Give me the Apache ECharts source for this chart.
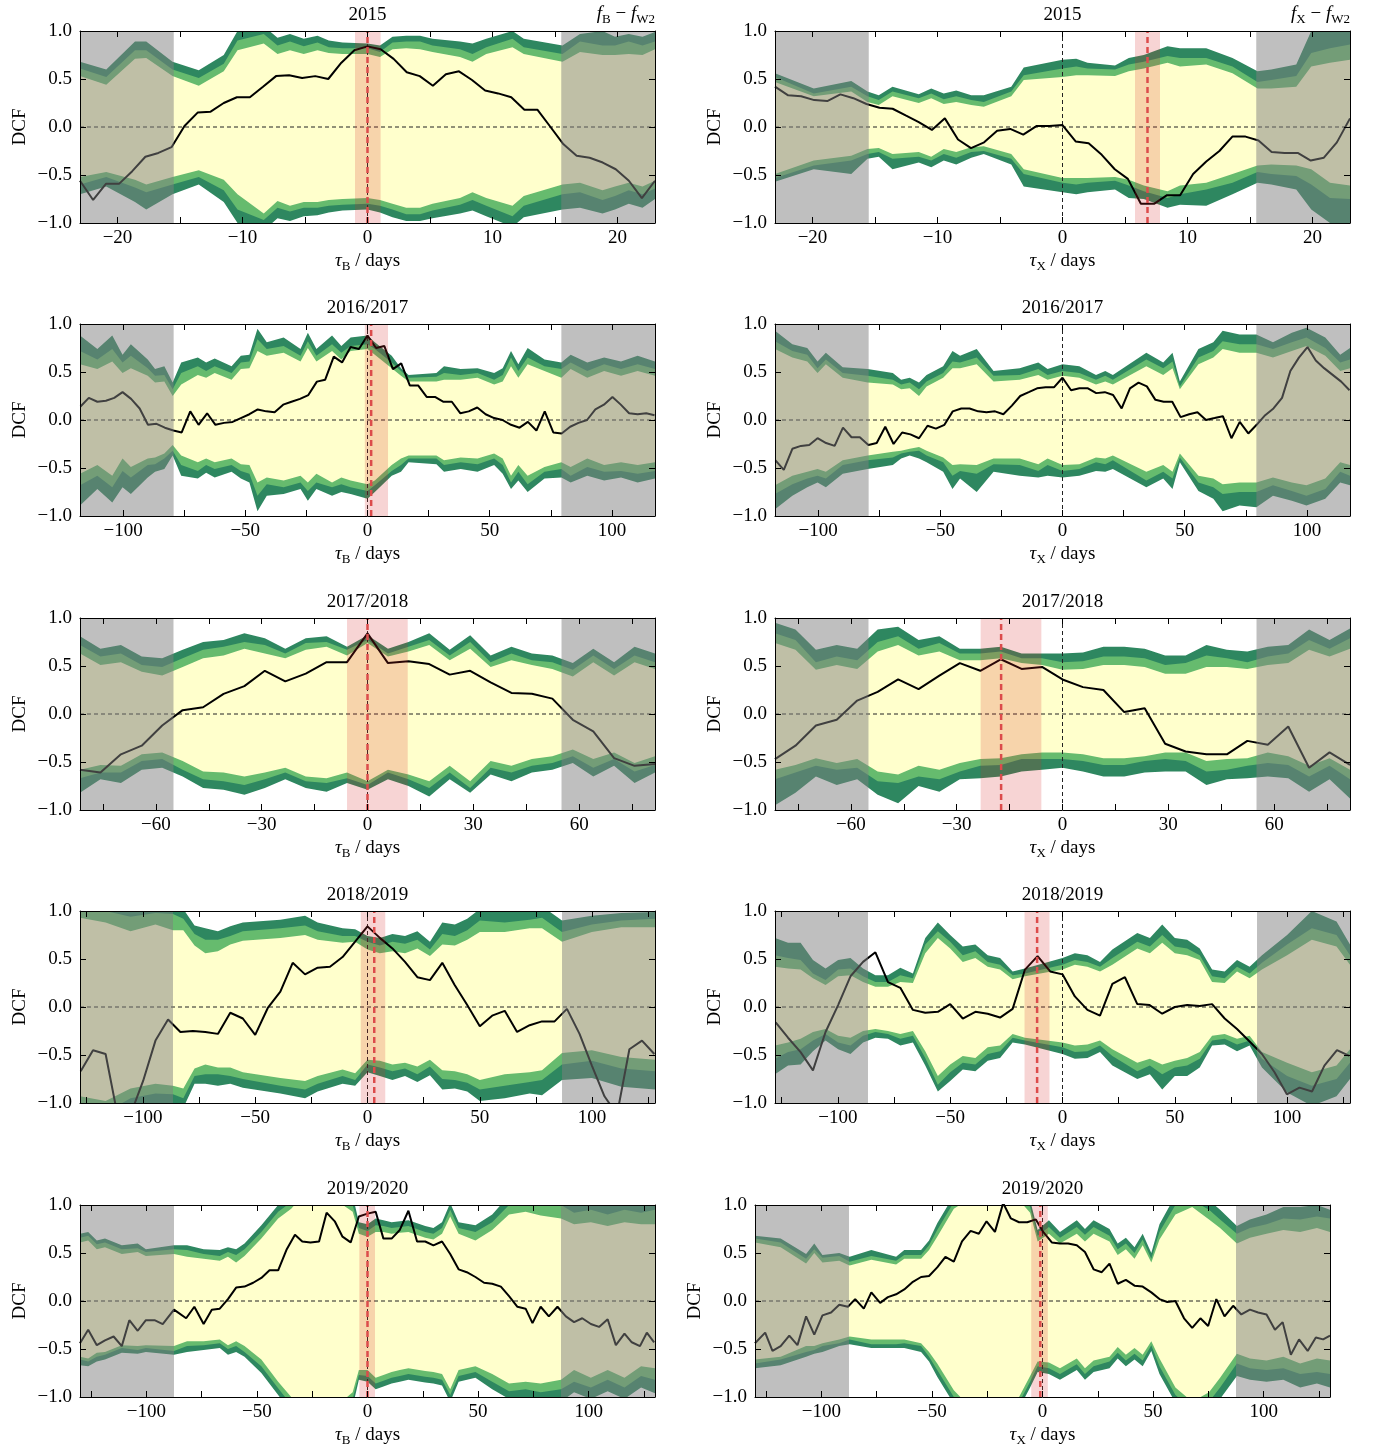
<!DOCTYPE html>
<html>
<head>
<meta charset="utf-8">
<script src="https://cdn.jsdelivr.net/npm/echarts@6/dist/echarts.min.js"></script>
<style>
html,body{margin:0;padding:0;background:#fff}
#main{width:1374px;height:1448px}
</style>
</head>
<body>
<div id="main"></div>
<script>
// ===== 2015 =====
const range2015 = [-23, 23];
const edge2015 = 15.5;
const ticks2015 = [-20, -15, -10, -5, 0, 5, 10, 15, 20];
const labels2015 = [-20, -10, 0, 10, 20];
const lagB15 = [-23.0,-21.95,-20.91,-19.86,-18.82,-17.77,-16.73,-15.68,-14.64,-13.59,-12.55,-11.5,-10.45,-9.41,-8.36,-7.32,-6.27,-5.23,-4.18,-3.14,-2.09,-1.05,0,1.05,2.09,3.14,4.18,5.23,6.27,7.32,8.36,9.41,10.45,11.5,12.55,13.59,14.64,15.68,16.73,17.77,18.82,19.86,20.91,21.95,23.0];
const dcfB15 = [-0.56,-0.76,-0.59,-0.59,-0.46,-0.31,-0.27,-0.21,0.01,0.15,0.16,0.25,0.31,0.31,0.42,0.53,0.54,0.51,0.53,0.50,0.67,0.80,0.84,0.81,0.71,0.57,0.53,0.43,0.55,0.58,0.49,0.38,0.35,0.31,0.18,0.18,0.0,-0.18,-0.30,-0.32,-0.37,-0.44,-0.56,-0.74,-0.56];
const bandLagB15 = [-23.0,-20.9,-18.6,-17.7,-15.6,-13.5,-11.5,-10.4,-8.3,-7.2,-6.2,-5.1,-4.0,-3.1,-2.0,0,1.0,2.0,3.1,4.2,5.2,7.4,8.4,9.5,11.6,12.5,15.6,17.0,18.8,19.8,20.9,22.0,23.0];
const up3B15 = [0.68,0.60,0.89,0.89,0.68,0.59,0.75,1.00,1.05,0.93,0.97,0.92,0.95,0.90,0.88,0.87,0.85,0.94,0.95,0.95,0.92,0.89,0.87,0.92,1.00,0.92,0.85,0.97,1.00,0.94,0.97,0.94,0.99];
const up2B15 = [0.61,0.52,0.80,0.80,0.60,0.51,0.66,0.90,0.97,0.85,0.89,0.84,0.88,0.83,0.82,0.82,0.78,0.88,0.89,0.89,0.85,0.81,0.76,0.83,0.92,0.83,0.76,0.89,0.85,0.85,0.89,0.85,0.89];
const up1B15 = [0.53,0.44,0.71,0.72,0.53,0.43,0.58,0.80,0.87,0.76,0.80,0.76,0.80,0.77,0.76,0.76,0.73,0.81,0.82,0.81,0.78,0.73,0.68,0.76,0.83,0.76,0.68,0.78,0.75,0.75,0.76,0.75,0.81];
const lo1B15 = [-0.52,-0.47,-0.55,-0.60,-0.52,-0.45,-0.55,-0.70,-0.90,-0.77,-0.82,-0.78,-0.78,-0.76,-0.75,-0.74,-0.76,-0.80,-0.84,-0.84,-0.80,-0.74,-0.68,-0.74,-0.82,-0.72,-0.60,-0.58,-0.66,-0.62,-0.58,-0.62,-0.56];
const lo2B15 = [-0.60,-0.52,-0.63,-0.68,-0.60,-0.52,-0.66,-0.86,-0.97,-0.84,-0.88,-0.84,-0.84,-0.82,-0.81,-0.80,-0.82,-0.86,-0.91,-0.91,-0.87,-0.81,-0.76,-0.82,-0.93,-0.82,-0.70,-0.68,-0.76,-0.72,-0.66,-0.70,-0.64];
const lo3B15 = [-0.70,-0.62,-0.78,-0.86,-0.70,-0.60,-0.78,-1.00,-1.08,-0.95,-0.98,-0.93,-0.92,-0.89,-0.87,-0.86,-0.89,-0.94,-0.98,-0.98,-0.95,-0.90,-0.87,-0.93,-1.04,-0.94,-0.86,-0.84,-0.90,-0.86,-0.80,-0.84,-0.75];
const peakB15 = [-1.0, 0, 1.05];

const lagX15 = lagB15;
const dcfX15 = [0.42,0.33,0.32,0.28,0.27,0.34,0.30,0.24,0.20,0.19,0.12,0.05,-0.03,0.09,-0.13,-0.22,-0.16,-0.04,-0.02,-0.08,0.01,0.01,0.02,-0.15,-0.17,-0.29,-0.44,-0.54,-0.80,-0.80,-0.71,-0.71,-0.49,-0.36,-0.25,-0.10,-0.10,-0.14,-0.26,-0.27,-0.27,-0.35,-0.32,-0.16,0.09];
const bandLagX15 = [-23.0,-19.9,-16.9,-15.6,-14.7,-13.6,-11.5,-10.5,-9.5,-8.5,-7.3,-6.3,-4.1,-3.1,0,1.1,2.0,4.2,5.3,6.5,8.4,9.4,11.5,13.6,15.6,16.7,18.7,19.9,21.4,23.0];
const up3X15 = [0.56,0.40,0.48,0.37,0.33,0.42,0.34,0.40,0.35,0.38,0.33,0.33,0.42,0.62,0.70,0.71,0.67,0.64,0.72,0.75,0.84,0.82,0.82,0.72,0.58,0.60,0.65,1.00,1.07,1.05];
const up2X15 = [0.52,0.35,0.42,0.32,0.28,0.37,0.30,0.35,0.29,0.32,0.28,0.26,0.37,0.54,0.61,0.63,0.61,0.60,0.65,0.68,0.74,0.72,0.72,0.63,0.47,0.49,0.53,0.77,0.82,0.86];
const up1X15 = [0.47,0.32,0.37,0.26,0.23,0.32,0.25,0.30,0.24,0.26,0.23,0.21,0.32,0.49,0.52,0.54,0.54,0.53,0.58,0.61,0.67,0.63,0.65,0.56,0.40,0.40,0.42,0.63,0.67,0.70];
const lo1X15 = [-0.49,-0.35,-0.30,-0.23,-0.22,-0.28,-0.26,-0.31,-0.23,-0.26,-0.21,-0.20,-0.28,-0.44,-0.53,-0.53,-0.53,-0.52,-0.55,-0.61,-0.67,-0.61,-0.58,-0.49,-0.40,-0.39,-0.40,-0.44,-0.58,-0.61];
const lo2X15 = [-0.53,-0.40,-0.35,-0.28,-0.26,-0.33,-0.31,-0.35,-0.28,-0.32,-0.26,-0.25,-0.33,-0.49,-0.58,-0.60,-0.58,-0.56,-0.61,-0.67,-0.74,-0.70,-0.65,-0.58,-0.47,-0.49,-0.51,-0.60,-0.74,-0.75];
const lo3X15 = [-0.57,-0.44,-0.49,-0.33,-0.31,-0.44,-0.37,-0.42,-0.35,-0.39,-0.32,-0.28,-0.39,-0.62,-0.68,-0.70,-0.68,-0.65,-0.74,-0.75,-0.84,-0.81,-0.82,-0.70,-0.58,-0.60,-0.65,-0.86,-1.00,-1.10];
const peakX15 = [5.8, 6.8, 7.8];

// ===== 2016/2017 =====
const range2016 = [-117.6, 117.6];
const edge2016 = 79.3;
const ticks2016 = [-100, -75, -50, -25, 0, 25, 50, 75, 100];
const labels2016 = [-100, -50, 0, 50, 100];
const lagB16 = [-117.4,-114.0,-110.5,-107.0,-103.6,-100.2,-96.7,-93.2,-89.8,-86.3,-82.9,-79.4,-76.0,-72.5,-69.1,-65.6,-62.2,-58.7,-55.2,-51.8,-48.3,-44.9,-41.4,-38.0,-34.5,-31.1,-27.6,-24.2,-20.7,-17.3,-13.8,-10.4,-6.9,-3.5,0,3.5,6.9,10.4,13.8,17.3,20.7,24.2,27.6,31.1,34.5,38.0,41.4,44.9,48.3,51.8,55.2,58.7,62.2,65.6,69.1,72.5,76.0,79.4,82.9,86.3,89.8,93.2,96.7,100.2,103.6,107.0,110.5,114.0,117.4];
const dcfB16 = [0.14,0.23,0.19,0.20,0.23,0.29,0.22,0.12,-0.05,-0.04,-0.08,-0.11,-0.13,0.09,-0.05,0.07,-0.05,-0.03,-0.02,0.02,0.06,0.11,0.09,0.08,0.16,0.19,0.22,0.26,0.40,0.42,0.66,0.60,0.76,0.74,0.88,0.75,0.77,0.53,0.59,0.36,0.36,0.24,0.24,0.19,0.19,0.07,0.09,0.13,0.06,0.02,0.00,-0.05,-0.08,-0.02,-0.11,0.09,-0.13,-0.14,-0.07,-0.03,0.00,0.11,0.16,0.24,0.16,0.07,0.06,0.07,0.05];
const bandLagB16 = [-117.6,-110.5,-104.4,-100.2,-96.8,-89.9,-86.9,-83.1,-79.7,-76.2,-69.4,-66.0,-62.5,-55.6,-51.8,-48.3,-45.0,-41.2,-34.3,-27.4,-24.4,-20.9,-14.5,-10.7,-6.9,0,3.0,9.9,13.7,16.8,28.2,31.3,38.1,45.0,51.8,55.3,58.7,61.7,65.5,72.4,79.3,83.1,89.9,96.8,103.7,110.5,117.6];
const up3B16 = [0.88,0.74,0.88,0.68,0.79,0.63,0.53,0.56,0.39,0.60,0.65,0.60,0.64,0.56,0.67,0.68,0.95,0.81,0.86,0.74,0.91,0.74,0.88,0.77,0.86,0.88,0.81,0.67,0.54,0.47,0.49,0.56,0.53,0.54,0.49,0.54,0.72,0.58,0.75,0.63,0.60,0.68,0.60,0.65,0.61,0.67,0.61];
const up2B16 = [0.72,0.63,0.74,0.60,0.67,0.54,0.46,0.47,0.32,0.49,0.56,0.51,0.56,0.49,0.60,0.61,0.84,0.74,0.77,0.67,0.82,0.67,0.79,0.70,0.77,0.79,0.74,0.60,0.51,0.44,0.45,0.49,0.47,0.49,0.42,0.47,0.65,0.51,0.65,0.56,0.53,0.60,0.51,0.58,0.53,0.58,0.53];
const up1B16 = [0.58,0.53,0.61,0.49,0.54,0.46,0.39,0.40,0.25,0.37,0.47,0.44,0.49,0.42,0.53,0.54,0.72,0.67,0.70,0.61,0.75,0.61,0.72,0.63,0.72,0.74,0.68,0.54,0.46,0.40,0.40,0.42,0.42,0.44,0.37,0.40,0.56,0.44,0.58,0.51,0.44,0.53,0.44,0.51,0.46,0.51,0.46];
const lo1B16 = [-0.56,-0.47,-0.58,-0.40,-0.49,-0.40,-0.39,-0.35,-0.26,-0.37,-0.44,-0.40,-0.44,-0.40,-0.46,-0.47,-0.65,-0.60,-0.63,-0.58,-0.65,-0.56,-0.65,-0.60,-0.63,-0.67,-0.63,-0.47,-0.40,-0.37,-0.37,-0.42,-0.39,-0.40,-0.35,-0.40,-0.58,-0.47,-0.58,-0.49,-0.44,-0.49,-0.40,-0.47,-0.44,-0.47,-0.44];
const lo2B16 = [-0.68,-0.58,-0.70,-0.53,-0.60,-0.47,-0.46,-0.40,-0.32,-0.47,-0.53,-0.47,-0.51,-0.47,-0.53,-0.56,-0.79,-0.67,-0.70,-0.65,-0.74,-0.65,-0.70,-0.67,-0.70,-0.74,-0.68,-0.53,-0.47,-0.40,-0.40,-0.47,-0.44,-0.46,-0.40,-0.47,-0.65,-0.54,-0.67,-0.54,-0.51,-0.58,-0.49,-0.54,-0.53,-0.56,-0.53];
const lo3B16 = [-0.89,-0.72,-0.86,-0.70,-0.77,-0.60,-0.54,-0.51,-0.37,-0.58,-0.61,-0.55,-0.60,-0.54,-0.61,-0.65,-0.95,-0.79,-0.77,-0.72,-0.84,-0.72,-0.79,-0.75,-0.77,-0.82,-0.75,-0.58,-0.54,-0.44,-0.46,-0.54,-0.51,-0.54,-0.47,-0.56,-0.72,-0.63,-0.75,-0.61,-0.60,-0.65,-0.58,-0.63,-0.60,-0.65,-0.61];
const peakB16 = [-1.1, 1.5, 8.4];

const lagX16 = lagB16;
const dcfX16 = [-0.42,-0.52,-0.30,-0.27,-0.26,-0.19,-0.24,-0.27,-0.08,-0.18,-0.18,-0.26,-0.24,-0.07,-0.25,-0.13,-0.15,-0.19,-0.06,-0.09,-0.05,0.09,0.12,0.12,0.09,0.08,0.09,0.06,0.15,0.25,0.29,0.33,0.34,0.34,0.44,0.31,0.33,0.33,0.28,0.29,0.26,0.12,0.33,0.39,0.35,0.21,0.19,0.19,0.03,0.06,0.08,0.00,0.02,0.04,-0.19,-0.02,-0.14,-0.05,0.05,0.12,0.23,0.51,0.65,0.76,0.62,0.54,0.47,0.40,0.31];
const bandLagX16 = [-117.6,-110.5,-104.4,-100.2,-96.8,-89.9,-79.7,-69.4,-66.0,-62.5,-58.7,-55.6,-48.8,-45.0,-41.9,-35.1,-28.2,-17.5,-9.9,-6.1,0,6.9,13.7,17.5,20.6,34.3,41.2,45.0,48.0,55.6,61.7,65.5,72.4,79.3,86.1,93.8,99.8,107.5,113.6,117.6];
const up3X16 = [0.93,0.79,0.75,0.61,0.70,0.55,0.53,0.49,0.42,0.44,0.39,0.47,0.56,0.72,0.67,0.74,0.51,0.54,0.60,0.53,0.58,0.56,0.47,0.51,0.47,0.70,0.60,0.70,0.40,0.74,0.81,0.93,0.89,0.89,0.81,0.91,0.96,0.86,0.68,0.75];
const up2X16 = [0.82,0.72,0.68,0.54,0.63,0.49,0.46,0.42,0.37,0.39,0.32,0.40,0.49,0.61,0.60,0.65,0.46,0.47,0.53,0.47,0.51,0.49,0.42,0.46,0.42,0.63,0.54,0.61,0.35,0.65,0.72,0.82,0.79,0.79,0.74,0.81,0.86,0.75,0.60,0.63];
const up1X16 = [0.74,0.65,0.61,0.49,0.58,0.44,0.39,0.37,0.32,0.33,0.25,0.35,0.44,0.54,0.54,0.58,0.40,0.42,0.47,0.42,0.46,0.44,0.37,0.40,0.37,0.56,0.47,0.54,0.32,0.58,0.65,0.74,0.70,0.70,0.65,0.72,0.77,0.67,0.51,0.54];
const lo1X16 = [-0.68,-0.58,-0.54,-0.51,-0.54,-0.42,-0.37,-0.33,-0.32,-0.30,-0.28,-0.32,-0.39,-0.47,-0.46,-0.47,-0.40,-0.40,-0.46,-0.40,-0.47,-0.46,-0.39,-0.40,-0.37,-0.54,-0.47,-0.54,-0.35,-0.58,-0.61,-0.67,-0.65,-0.65,-0.60,-0.65,-0.68,-0.61,-0.44,-0.47];
const lo2X16 = [-0.77,-0.67,-0.61,-0.58,-0.61,-0.47,-0.42,-0.39,-0.35,-0.33,-0.32,-0.37,-0.44,-0.58,-0.53,-0.56,-0.46,-0.47,-0.53,-0.47,-0.53,-0.51,-0.44,-0.46,-0.42,-0.63,-0.54,-0.61,-0.39,-0.65,-0.70,-0.77,-0.75,-0.75,-0.68,-0.74,-0.79,-0.72,-0.54,-0.58];
const lo3X16 = [-0.93,-0.79,-0.70,-0.65,-0.70,-0.56,-0.51,-0.47,-0.40,-0.37,-0.40,-0.44,-0.54,-0.72,-0.61,-0.75,-0.54,-0.58,-0.60,-0.58,-0.60,-0.58,-0.53,-0.54,-0.51,-0.70,-0.61,-0.72,-0.44,-0.74,-0.82,-0.95,-0.89,-0.91,-0.79,-0.84,-0.89,-0.82,-0.65,-0.68];
const peakX16 = null;

// ===== 2017/2018 =====
const range2017 = [-81.5, 81.5];
const edge2017 = 55.0;
const ticks2017 = [-75, -60, -45, -30, -15, 0, 15, 30, 45, 60, 75];
const labels2017 = [-60, -30, 0, 30, 60];
const lagB17 = [-81.5,-75.7,-69.9,-64.0,-58.2,-52.4,-46.6,-40.8,-34.9,-29.1,-23.3,-17.5,-11.6,-5.8,0,5.8,11.6,17.5,23.3,29.1,34.9,40.8,46.6,52.4,58.2,64.0,69.9,75.7,81.5];
const dcfB17 = [-0.58,-0.61,-0.42,-0.33,-0.12,0.04,0.07,0.21,0.29,0.45,0.34,0.42,0.54,0.54,0.84,0.53,0.55,0.52,0.41,0.45,0.33,0.22,0.21,0.16,-0.06,-0.18,-0.46,-0.54,-0.52];
const up3B17 = [0.81,0.68,0.72,0.60,0.58,0.67,0.75,0.77,0.84,0.79,0.68,0.79,0.81,0.70,0.82,0.68,0.75,0.84,0.67,0.82,0.61,0.70,0.63,0.61,0.53,0.68,0.54,0.70,0.63];
const up2B17 = [0.72,0.60,0.63,0.51,0.49,0.58,0.67,0.70,0.75,0.72,0.63,0.74,0.75,0.67,0.77,0.63,0.70,0.77,0.61,0.75,0.54,0.63,0.56,0.54,0.46,0.61,0.47,0.61,0.54];
const up1B17 = [0.63,0.51,0.54,0.44,0.40,0.49,0.58,0.61,0.68,0.63,0.58,0.67,0.70,0.61,0.74,0.60,0.65,0.72,0.56,0.68,0.49,0.56,0.51,0.47,0.39,0.54,0.40,0.54,0.47];
const lo1B17 = [-0.58,-0.53,-0.54,-0.42,-0.40,-0.49,-0.60,-0.61,-0.65,-0.61,-0.56,-0.65,-0.67,-0.61,-0.70,-0.58,-0.63,-0.70,-0.54,-0.70,-0.49,-0.54,-0.47,-0.44,-0.37,-0.47,-0.40,-0.51,-0.44];
const lo2B17 = [-0.67,-0.61,-0.61,-0.49,-0.47,-0.58,-0.68,-0.70,-0.74,-0.68,-0.61,-0.70,-0.72,-0.67,-0.74,-0.61,-0.68,-0.77,-0.61,-0.77,-0.56,-0.61,-0.54,-0.51,-0.44,-0.56,-0.47,-0.60,-0.53];
const lo3B17 = [-0.82,-0.68,-0.72,-0.58,-0.56,-0.65,-0.77,-0.79,-0.84,-0.77,-0.68,-0.77,-0.81,-0.72,-0.79,-0.68,-0.75,-0.86,-0.68,-0.82,-0.63,-0.70,-0.61,-0.58,-0.51,-0.65,-0.54,-0.72,-0.61];
const peakB17 = [-5.8, 0, 11.4];

const lagX17 = lagB17;
const dcfX17 = [-0.47,-0.33,-0.12,-0.06,0.14,0.23,0.36,0.26,0.40,0.53,0.45,0.57,0.47,0.49,0.36,0.28,0.25,0.02,0.06,-0.31,-0.39,-0.42,-0.42,-0.28,-0.32,-0.13,-0.56,-0.40,-0.53];
const up3X17 = [0.95,0.88,0.67,0.72,0.68,0.88,0.91,0.77,0.81,0.68,0.68,0.70,0.63,0.63,0.63,0.64,0.70,0.70,0.68,0.61,0.61,0.72,0.67,0.65,0.70,0.72,0.88,0.77,0.89];
const up2X17 = [0.84,0.77,0.54,0.60,0.56,0.75,0.81,0.68,0.74,0.63,0.63,0.65,0.58,0.58,0.54,0.55,0.60,0.60,0.58,0.51,0.53,0.61,0.58,0.54,0.60,0.63,0.77,0.68,0.79];
const up1X17 = [0.74,0.67,0.46,0.51,0.47,0.65,0.72,0.61,0.65,0.56,0.56,0.58,0.53,0.51,0.46,0.47,0.51,0.51,0.49,0.42,0.42,0.49,0.49,0.47,0.51,0.53,0.67,0.60,0.68];
const lo1X17 = [-0.58,-0.53,-0.46,-0.51,-0.47,-0.60,-0.63,-0.54,-0.58,-0.51,-0.47,-0.46,-0.42,-0.40,-0.40,-0.42,-0.46,-0.46,-0.44,-0.40,-0.40,-0.49,-0.47,-0.46,-0.40,-0.44,-0.54,-0.46,-0.58];
const lo2X17 = [-0.68,-0.61,-0.54,-0.58,-0.56,-0.70,-0.72,-0.65,-0.68,-0.60,-0.54,-0.53,-0.47,-0.47,-0.47,-0.49,-0.53,-0.53,-0.49,-0.47,-0.49,-0.60,-0.58,-0.54,-0.51,-0.53,-0.65,-0.54,-0.68];
const lo3X17 = [-0.95,-0.82,-0.65,-0.74,-0.68,-0.84,-0.93,-0.75,-0.81,-0.68,-0.67,-0.65,-0.60,-0.58,-0.56,-0.60,-0.65,-0.65,-0.61,-0.60,-0.60,-0.74,-0.68,-0.67,-0.65,-0.67,-0.81,-0.68,-0.88];
const peakX17 = [-23.2, -17.4, -6.0];

// ===== 2018/2019 =====
const range2018 = [-128, 128];
const edge2018 = 86.6;
const ticks2018 = [-125, -100, -75, -50, -25, 0, 25, 50, 75, 100, 125];
const labels2018 = [-100, -50, 0, 50, 100];
const lagB18 = [-127.7,-122.2,-116.6,-111.1,-105.5,-99.9,-94.4,-88.8,-83.3,-77.7,-72.2,-66.6,-61.1,-55.5,-50.0,-44.4,-38.8,-33.3,-27.8,-22.2,-16.7,-11.1,-5.5,0,5.5,11.1,16.7,22.2,27.8,33.3,38.8,44.4,50.0,55.5,61.1,66.6,72.2,77.7,83.3,88.8,94.4,99.9,105.5,111.1,116.6,122.2,127.7];
const dcfB18 = [-0.67,-0.45,-0.49,-1.15,-1.12,-0.77,-0.35,-0.13,-0.26,-0.25,-0.26,-0.28,-0.06,-0.12,-0.29,-0.01,0.16,0.46,0.34,0.41,0.42,0.52,0.68,0.84,0.72,0.61,0.47,0.31,0.28,0.46,0.23,0.02,-0.20,-0.09,-0.04,-0.26,-0.19,-0.15,-0.15,-0.02,-0.28,-0.61,-0.93,-1.12,-0.44,-0.35,-0.49];
const bandLagB18 = [-128,-116.6,-105.5,-94.4,-86.6,-82.0,-77.0,-72.2,-66.6,-61.1,-55.5,-38.8,-27.8,-22.2,-11.1,-5.5,0,5.5,11.1,16.7,22.2,27.8,33.3,38.9,44.4,50.0,61.1,72.2,77.7,86.6,99.9,113.0,128];
const up3B18 = [1.20,1.15,1.10,1.10,1.05,1.02,0.85,0.82,0.79,0.84,0.88,0.91,0.95,0.88,0.82,0.81,0.74,0.72,0.76,0.74,0.79,0.68,0.88,0.86,0.92,1.02,1.02,1.02,1.05,0.90,0.95,0.98,0.99];
const up2B18 = [1.05,1.00,0.94,0.98,0.97,0.92,0.76,0.70,0.70,0.74,0.79,0.82,0.85,0.79,0.74,0.74,0.68,0.64,0.68,0.66,0.70,0.60,0.76,0.74,0.80,0.90,0.88,0.91,0.93,0.78,0.86,0.90,0.92];
const up1B18 = [0.93,0.88,0.79,0.86,0.80,0.80,0.64,0.56,0.58,0.65,0.69,0.72,0.75,0.70,0.67,0.68,0.60,0.56,0.58,0.56,0.61,0.53,0.65,0.64,0.70,0.78,0.78,0.82,0.82,0.68,0.78,0.83,0.83];
const lo1B18 = [-0.93,-0.98,-0.85,-0.80,-0.82,-0.85,-0.64,-0.60,-0.63,-0.63,-0.68,-0.74,-0.77,-0.72,-0.65,-0.69,-0.55,-0.56,-0.60,-0.58,-0.62,-0.55,-0.66,-0.67,-0.70,-0.76,-0.70,-0.68,-0.66,-0.48,-0.45,-0.52,-0.55];
const lo2B18 = [-1.05,-1.10,-0.95,-0.90,-0.91,-0.95,-0.72,-0.70,-0.70,-0.72,-0.75,-0.82,-0.86,-0.80,-0.72,-0.76,-0.60,-0.63,-0.67,-0.64,-0.70,-0.62,-0.75,-0.76,-0.79,-0.86,-0.82,-0.78,-0.76,-0.60,-0.56,-0.64,-0.67];
const lo3B18 = [-1.20,-1.20,-1.10,-1.05,-1.00,-1.05,-0.80,-0.80,-0.82,-0.80,-0.84,-0.90,-0.95,-0.88,-0.80,-0.82,-0.68,-0.72,-0.76,-0.72,-0.78,-0.71,-0.86,-0.85,-0.88,-0.98,-0.95,-0.90,-0.92,-0.76,-0.74,-0.83,-0.86];
const peakB18 = [-3.0, 3.0, 7.9];

const lagX18 = lagB18;
const dcfX18 = [-0.16,-0.32,-0.47,-0.66,-0.26,0.02,0.32,0.47,0.57,0.26,0.20,-0.03,-0.06,-0.05,0.03,-0.12,-0.05,-0.07,-0.11,-0.02,0.39,0.53,0.37,0.34,0.11,-0.03,-0.09,0.24,0.31,0.03,0.02,-0.07,0.00,0.02,0.01,0.03,-0.12,-0.23,-0.36,-0.49,-0.68,-0.91,-0.84,-0.88,-0.61,-0.45,-0.51];
const bandLagX18 = [-128,-122.2,-116.6,-111.1,-105.5,-99.9,-94.4,-88.8,-83.3,-77.7,-72.2,-66.6,-61.1,-55.5,-50.0,-44.4,-38.8,-33.3,-27.8,-22.2,-16.7,0,5.5,11.1,16.7,22.2,33.3,38.9,44.4,50.0,55.5,61.1,66.6,72.2,77.7,83.3,88.8,100.0,111.0,122.0,128];
const up3X18 = [0.72,0.67,0.67,0.49,0.40,0.49,0.51,0.40,0.33,0.33,0.41,0.35,0.72,0.88,0.75,0.63,0.65,0.54,0.51,0.37,0.40,0.51,0.56,0.54,0.47,0.60,0.77,0.72,0.86,0.72,0.70,0.61,0.39,0.37,0.49,0.42,0.54,0.75,1.00,0.89,0.65];
const up2X18 = [0.54,0.51,0.49,0.35,0.28,0.39,0.40,0.32,0.26,0.26,0.33,0.30,0.65,0.79,0.68,0.54,0.58,0.47,0.44,0.33,0.35,0.44,0.49,0.47,0.42,0.51,0.68,0.63,0.75,0.63,0.61,0.54,0.32,0.30,0.42,0.35,0.46,0.65,0.82,0.75,0.54];
const up1X18 = [0.42,0.40,0.39,0.30,0.23,0.32,0.33,0.26,0.21,0.21,0.26,0.25,0.56,0.72,0.61,0.47,0.51,0.42,0.39,0.29,0.32,0.39,0.44,0.42,0.37,0.44,0.61,0.56,0.67,0.56,0.54,0.49,0.26,0.25,0.37,0.30,0.39,0.54,0.70,0.63,0.44];
const lo1X18 = [-0.40,-0.37,-0.33,-0.26,-0.23,-0.30,-0.32,-0.25,-0.23,-0.25,-0.28,-0.25,-0.46,-0.72,-0.60,-0.51,-0.53,-0.42,-0.40,-0.28,-0.32,-0.37,-0.40,-0.39,-0.35,-0.44,-0.58,-0.54,-0.60,-0.56,-0.53,-0.47,-0.30,-0.28,-0.33,-0.30,-0.47,-0.58,-0.68,-0.61,-0.44];
const lo2X18 = [-0.54,-0.47,-0.44,-0.35,-0.28,-0.37,-0.40,-0.30,-0.26,-0.28,-0.33,-0.30,-0.53,-0.81,-0.68,-0.58,-0.60,-0.49,-0.46,-0.32,-0.35,-0.42,-0.47,-0.46,-0.40,-0.51,-0.67,-0.61,-0.70,-0.63,-0.61,-0.54,-0.35,-0.33,-0.39,-0.35,-0.54,-0.72,-0.82,-0.75,-0.58];
const lo3X18 = [-0.70,-0.61,-0.60,-0.46,-0.35,-0.44,-0.49,-0.37,-0.32,-0.33,-0.40,-0.37,-0.61,-0.88,-0.77,-0.65,-0.67,-0.56,-0.53,-0.37,-0.39,-0.49,-0.54,-0.53,-0.47,-0.61,-0.75,-0.70,-0.86,-0.72,-0.72,-0.63,-0.40,-0.39,-0.46,-0.40,-0.63,-0.89,-1.03,-0.93,-0.75];
const peakX18 = [-16.9, -11.3, -5.8];

// ===== 2019/2020 =====
const range2019 = [-130, 130];
const edge2019 = 87.5;
const ticks2019 = [-125, -100, -75, -50, -25, 0, 25, 50, 75, 100, 125];
const labels2019 = [-100, -50, 0, 50, 100];
const lagB19 = [-130.0,-126.3,-122.4,-118.7,-114.8,-111.1,-107.7,-103.9,-100.2,-96.3,-92.6,-87.5,-82.0,-78.3,-74.1,-70.4,-66.8,-63.1,-59.4,-55.6,-51.7,-48.0,-44.3,-40.4,-36.5,-32.8,-29.5,-25.8,-21.9,-18.5,-14.8,-11.3,-7.6,-3.9,0,3.7,7.2,10.9,14.6,18.5,22.4,26.1,29.8,33.7,37.4,41.2,44.9,48.8,52.7,56.4,60.3,64.0,67.8,71.5,74.6,78.3,82.0,85.9,89.7,93.4,97.1,101.0,104.7,108.6,112.3,116.2,119.5,123.2,126.3,129.6];
const dcfB19 = [-0.44,-0.30,-0.46,-0.41,-0.37,-0.47,-0.20,-0.31,-0.20,-0.20,-0.24,-0.09,-0.18,-0.06,-0.24,-0.09,-0.08,0.02,0.14,0.15,0.19,0.24,0.32,0.32,0.54,0.69,0.62,0.61,0.62,0.92,0.83,0.67,0.61,0.88,0.91,0.93,0.65,0.65,0.74,0.94,0.62,0.62,0.58,0.62,0.49,0.33,0.30,0.25,0.19,0.18,0.15,0.05,-0.06,-0.08,-0.23,-0.06,-0.16,-0.06,-0.16,-0.22,-0.18,-0.24,-0.27,-0.19,-0.46,-0.34,-0.43,-0.47,-0.33,-0.43];
const bandLagB19 = [-130,-126.3,-122.4,-118.7,-111.1,-103.9,-100.2,-87.5,-81.6,-74.1,-66.8,-63.1,-59.4,-55.6,-48.0,-40.4,-34.5,-31.1,-14.3,-6.7,-3.9,0,3.7,7.2,10.9,14.6,18.5,26.1,29.8,33.7,37.4,41.2,48.8,56.4,64.0,71.5,78.3,87.5,93.4,101.0,108.6,116.2,123.7,130];
const up3B19 = [0.70,0.72,0.63,0.65,0.58,0.60,0.54,0.58,0.58,0.54,0.53,0.56,0.54,0.60,0.79,1.00,1.10,1.20,1.20,1.10,0.82,0.80,0.86,0.84,0.82,0.83,0.84,0.78,0.76,0.82,1.02,0.82,0.79,0.90,1.10,1.15,1.10,1.10,1.05,1.10,1.05,1.10,1.05,1.10];
const up2B19 = [0.66,0.68,0.59,0.61,0.54,0.55,0.51,0.54,0.53,0.49,0.47,0.51,0.48,0.54,0.72,0.93,1.03,1.12,1.12,1.00,0.76,0.73,0.79,0.78,0.76,0.77,0.78,0.72,0.70,0.76,0.95,0.76,0.72,0.82,1.00,1.05,1.00,1.00,0.92,0.95,0.90,0.95,0.92,0.95];
const up1B19 = [0.61,0.63,0.54,0.56,0.49,0.51,0.47,0.49,0.46,0.44,0.42,0.46,0.40,0.47,0.65,0.86,0.96,1.05,1.05,0.93,0.70,0.67,0.72,0.72,0.70,0.71,0.72,0.66,0.64,0.70,0.88,0.70,0.63,0.74,0.90,0.93,0.89,0.86,0.80,0.82,0.78,0.82,0.80,0.80];
const lo1B19 = [-0.58,-0.60,-0.54,-0.53,-0.46,-0.47,-0.46,-0.47,-0.42,-0.42,-0.40,-0.46,-0.42,-0.47,-0.61,-0.84,-1.00,-1.05,-1.10,-0.95,-0.72,-0.72,-0.80,-0.77,-0.74,-0.72,-0.70,-0.73,-0.74,-0.76,-0.92,-0.72,-0.68,-0.76,-0.86,-0.84,-0.86,-0.82,-0.72,-0.80,-0.72,-0.80,-0.68,-0.70];
const lo2B19 = [-0.61,-0.63,-0.58,-0.56,-0.49,-0.51,-0.49,-0.52,-0.47,-0.46,-0.44,-0.50,-0.47,-0.53,-0.68,-0.91,-1.08,-1.12,-1.17,-1.02,-0.77,-0.78,-0.86,-0.83,-0.80,-0.78,-0.76,-0.79,-0.80,-0.82,-0.98,-0.78,-0.74,-0.84,-0.94,-0.92,-0.95,-0.92,-0.84,-0.90,-0.82,-0.90,-0.78,-0.82];
const lo3B19 = [-0.67,-0.68,-0.63,-0.61,-0.54,-0.55,-0.53,-0.56,-0.53,-0.51,-0.49,-0.56,-0.53,-0.58,-0.75,-0.98,-1.15,-1.20,-1.25,-1.10,-0.82,-0.84,-0.92,-0.89,-0.86,-0.84,-0.82,-0.85,-0.86,-0.88,-1.05,-0.84,-0.80,-0.92,-1.02,-1.02,-1.05,-1.05,-0.95,-1.02,-0.94,-1.02,-0.90,-0.96];
const peakB19 = [-3.7, 0, 3.4];

const lagX19 = [-130.0,-125.4,-122.1,-118.4,-114.5,-110.8,-106.9,-103.2,-99.5,-95.6,-91.9,-88.0,-84.7,-80.8,-77.4,-73.4,-69.9,-66.2,-62.5,-58.6,-54.9,-51.3,-47.6,-43.9,-40.1,-36.4,-32.5,-28.8,-25.3,-21.5,-17.8,-14.3,-10.6,-6.9,-3.0,0.3,4.2,7.9,11.6,15.5,19.2,23.1,26.8,30.3,34.0,37.7,41.6,45.3,49.2,52.9,56.4,60.1,64.0,67.7,71.4,74.9,78.6,82.3,86.2,89.9,93.8,97.5,101.3,105.1,108.6,112.3,116.0,119.9,123.6,126.9,130.0];
const dcfX19 = [-0.44,-0.33,-0.52,-0.47,-0.36,-0.46,-0.16,-0.35,-0.15,-0.12,-0.04,-0.06,0.02,-0.08,0.09,-0.02,0.04,0.07,0.12,0.20,0.25,0.26,0.35,0.46,0.41,0.62,0.73,0.70,0.83,0.72,1.02,0.86,0.82,0.82,0.85,0.72,0.61,0.60,0.60,0.58,0.51,0.33,0.30,0.39,0.18,0.22,0.16,0.15,0.09,0.02,-0.01,0.00,-0.18,-0.28,-0.18,-0.26,0.02,-0.16,-0.05,-0.14,-0.09,-0.12,-0.14,-0.30,-0.22,-0.56,-0.40,-0.52,-0.38,-0.40,-0.36];
const bandLagX19 = [-130,-118.4,-106.9,-103.2,-99.5,-91.9,-87.2,-77.4,-66.2,-62.5,-54.9,-51.3,-47.6,-40.1,-30.8,-10.6,-5.6,-2.2,2.9,7.9,15.5,19.2,23.1,30.3,34.0,37.7,41.6,45.3,49.2,52.9,60.1,67.7,75.3,80.3,87.9,93.8,101.3,108.9,116.5,124.1,130];
const up3X19 = [0.68,0.65,0.49,0.60,0.48,0.50,0.46,0.53,0.46,0.53,0.53,0.63,0.81,1.10,1.25,1.20,1.05,0.74,0.84,0.72,0.84,0.75,0.84,0.75,0.60,0.66,0.56,0.70,0.50,0.80,1.10,1.15,1.05,0.95,0.78,0.85,0.90,0.98,0.98,1.00,0.95];
const up2X19 = [0.65,0.61,0.44,0.54,0.45,0.47,0.41,0.47,0.42,0.48,0.48,0.58,0.74,1.03,1.18,1.12,0.98,0.68,0.77,0.66,0.77,0.69,0.77,0.68,0.54,0.60,0.50,0.64,0.44,0.72,1.00,1.05,0.95,0.85,0.70,0.76,0.80,0.86,0.85,0.88,0.86];
const up1X19 = [0.61,0.56,0.39,0.50,0.40,0.42,0.37,0.43,0.38,0.44,0.44,0.53,0.67,0.96,1.10,1.05,0.92,0.62,0.70,0.60,0.70,0.62,0.70,0.62,0.48,0.54,0.44,0.58,0.40,0.64,0.90,0.98,0.85,0.76,0.60,0.66,0.70,0.74,0.72,0.76,0.72];
const lo1X19 = [-0.61,-0.58,-0.47,-0.47,-0.44,-0.40,-0.37,-0.40,-0.40,-0.40,-0.44,-0.53,-0.65,-0.93,-1.15,-1.00,-0.78,-0.63,-0.64,-0.70,-0.60,-0.70,-0.62,-0.58,-0.48,-0.56,-0.49,-0.56,-0.42,-0.60,-0.90,-1.05,-0.95,-0.80,-0.55,-0.60,-0.62,-0.58,-0.65,-0.60,-0.62];
const lo2X19 = [-0.65,-0.61,-0.53,-0.51,-0.47,-0.44,-0.40,-0.45,-0.45,-0.44,-0.47,-0.58,-0.72,-1.00,-1.22,-1.06,-0.84,-0.68,-0.70,-0.76,-0.66,-0.76,-0.68,-0.63,-0.54,-0.62,-0.55,-0.62,-0.46,-0.68,-0.98,-1.12,-1.05,-0.90,-0.65,-0.70,-0.72,-0.70,-0.76,-0.74,-0.76];
const lo3X19 = [-0.70,-0.67,-0.58,-0.55,-0.53,-0.47,-0.45,-0.49,-0.49,-0.49,-0.53,-0.63,-0.79,-1.07,-1.30,-1.12,-0.90,-0.74,-0.76,-0.82,-0.72,-0.82,-0.74,-0.70,-0.60,-0.68,-0.61,-0.68,-0.52,-0.76,-1.06,-1.20,-1.15,-1.02,-0.78,-0.82,-0.84,-0.82,-0.90,-0.86,-0.90];
const peakX19 = [-5.1, -1.0, 2.4];

// ===== layout & style =====
const FONT = '"Liberation Serif", "Times New Roman", serif';
const FS = 19;
const DARK = '#2e8760';
const LIGHT = '#66bb6e';
const YELLOW = '#ffffcc';
const GREY = 'rgba(128,128,128,0.5)';
const PEAK_FILL = 'rgba(214,39,40,0.2)';
const PEAK_LINE = '#dc4b4b';

const panels = [
  {title:'2015', sub:'B', lag:lagB15, dcf:dcfB15, bLag:bandLagB15, u3:up3B15, u2:up2B15, u1:up1B15, l1:lo1B15, l2:lo2B15, l3:lo3B15, range:range2015, edge:edge2015, ticks:ticks2015, labels:labels2015, peak:peakB15, note:true},
  {title:'2015', sub:'X', lag:lagX15, dcf:dcfX15, bLag:bandLagX15, u3:up3X15, u2:up2X15, u1:up1X15, l1:lo1X15, l2:lo2X15, l3:lo3X15, range:range2015, edge:edge2015, ticks:ticks2015, labels:labels2015, peak:peakX15, note:true},
  {title:'2016/2017', sub:'B', lag:lagB16, dcf:dcfB16, bLag:bandLagB16, u3:up3B16, u2:up2B16, u1:up1B16, l1:lo1B16, l2:lo2B16, l3:lo3B16, range:range2016, edge:edge2016, ticks:ticks2016, labels:labels2016, peak:peakB16},
  {title:'2016/2017', sub:'X', lag:lagX16, dcf:dcfX16, bLag:bandLagX16, u3:up3X16, u2:up2X16, u1:up1X16, l1:lo1X16, l2:lo2X16, l3:lo3X16, range:range2016, edge:edge2016, ticks:ticks2016, labels:labels2016, peak:peakX16},
  {title:'2017/2018', sub:'B', lag:lagB17, dcf:dcfB17, bLag:lagB17, u3:up3B17, u2:up2B17, u1:up1B17, l1:lo1B17, l2:lo2B17, l3:lo3B17, range:range2017, edge:edge2017, ticks:ticks2017, labels:labels2017, peak:peakB17},
  {title:'2017/2018', sub:'X', lag:lagX17, dcf:dcfX17, bLag:lagX17, u3:up3X17, u2:up2X17, u1:up1X17, l1:lo1X17, l2:lo2X17, l3:lo3X17, range:range2017, edge:edge2017, ticks:ticks2017, labels:labels2017, peak:peakX17},
  {title:'2018/2019', sub:'B', lag:lagB18, dcf:dcfB18, bLag:bandLagB18, u3:up3B18, u2:up2B18, u1:up1B18, l1:lo1B18, l2:lo2B18, l3:lo3B18, range:range2018, edge:edge2018, ticks:ticks2018, labels:labels2018, peak:peakB18},
  {title:'2018/2019', sub:'X', lag:lagX18, dcf:dcfX18, bLag:bandLagX18, u3:up3X18, u2:up2X18, u1:up1X18, l1:lo1X18, l2:lo2X18, l3:lo3X18, range:range2018, edge:edge2018, ticks:ticks2018, labels:labels2018, peak:peakX18},
  {title:'2019/2020', sub:'B', lag:lagB19, dcf:dcfB19, bLag:bandLagB19, u3:up3B19, u2:up2B19, u1:up1B19, l1:lo1B19, l2:lo2B19, l3:lo3B19, range:range2019, edge:edge2019, ticks:ticks2019, labels:labels2019, peak:peakB19},
  {title:'2019/2020', sub:'X', lag:lagX19, dcf:dcfX19, bLag:bandLagX19, u3:up3X19, u2:up2X19, u1:up1X19, l1:lo1X19, l2:lo2X19, l3:lo3X19, range:range2019, edge:edge2019, ticks:ticks2019, labels:labels2019, peak:peakX19}
];

const rowTops = [31, 324, 618, 911, 1205];
const GRID_W = 575, GRID_H = 192;

const fmtX = v => (v < 0 ? '\u2212' + (-v) : String(v));
const fmtY = v => (v < 0 ? '\u2212' : '') + Math.abs(v).toFixed(1);

// filled polygon between an upper and a lower curve
function bandRenderer(lags, hi, lo, fill) {
  return function (params, api) {
    const pts = [];
    for (let k = 0; k < lags.length; k++) pts.push(api.coord([lags[k], hi[k]]));
    for (let k = lags.length - 1; k >= 0; k--) pts.push(api.coord([lags[k], lo[k]]));
    return {type: 'polygon', shape: {points: pts}, style: {fill: fill}};
  };
}
// full-height vertical span [value0, value1]
function spanRenderer(fill) {
  return function (params, api) {
    const a = api.coord([api.value(0), 1]);
    const b = api.coord([api.value(1), -1]);
    return {type: 'rect', shape: {x: a[0], y: a[1], width: b[0] - a[0], height: b[1] - a[1]}, style: {fill: fill}};
  };
}

const subRich = {
  t: {fontFamily: FONT, fontSize: FS, fontStyle: 'italic', lineHeight: 24, color: '#000'},
  i: {fontFamily: FONT, fontSize: FS, fontStyle: 'italic', lineHeight: 24, color: '#000'},
  s: {fontFamily: FONT, fontSize: 13, lineHeight: 15, verticalAlign: 'bottom', color: '#000'},
  n: {fontFamily: FONT, fontSize: FS, lineHeight: 24, color: '#000'}
};

const grids = [], xAxes = [], yAxes = [], series = [], graphics = [];
const lineAxis = {show: true, onZero: false, lineStyle: {color: '#000', width: 1}};

panels.forEach((p, i) => {
  const row = Math.floor(i / 2), col = i % 2;
  const left = col === 0 ? 80 : (row === 4 ? 755 : 775);
  const top = rowTops[row];
  grids.push({left: left, top: top, width: GRID_W, height: GRID_H});

  const tick = {show: true, inside: true, length: 6, customValues: p.ticks, lineStyle: {color: '#000', width: 1}};
  xAxes.push({
    gridIndex: i, type: 'value', position: 'bottom', min: p.range[0], max: p.range[1], z: 10,
    axisLine: lineAxis, axisTick: tick,
    axisLabel: {show: true, customValues: p.labels, formatter: fmtX, margin: 6, fontFamily: FONT, fontSize: FS, color: '#000'},
    splitLine: {show: false},
    name: '{t|\u03c4}{s|' + p.sub + '}{n| / days}', nameLocation: 'middle', nameGap: 26,
    nameTextStyle: {fontFamily: FONT, fontSize: FS, color: '#000', rich: subRich}
  });
  xAxes.push({
    gridIndex: i, type: 'value', position: 'top', min: p.range[0], max: p.range[1], z: 10,
    axisLine: lineAxis, axisTick: tick, axisLabel: {show: false}, splitLine: {show: false}
  });
  const ytick = {show: true, inside: true, length: 6, lineStyle: {color: '#000', width: 1}};
  yAxes.push({
    gridIndex: i, type: 'value', position: 'left', min: -1, max: 1, interval: 0.5, z: 10,
    axisLine: lineAxis, axisTick: ytick,
    axisLabel: {show: true, formatter: fmtY, margin: 8, fontFamily: FONT, fontSize: FS, color: '#000'},
    splitLine: {show: false},
    name: 'DCF', nameLocation: 'middle', nameRotate: 90, nameGap: 50,
    nameTextStyle: {fontFamily: FONT, fontSize: FS, color: '#000'}
  });
  yAxes.push({
    gridIndex: i, type: 'value', position: 'right', min: -1, max: 1, interval: 0.5, z: 10,
    axisLine: lineAxis, axisTick: ytick, axisLabel: {show: false}, splitLine: {show: false}
  });

  const ax = {xAxisIndex: 2 * i, yAxisIndex: 2 * i};
  [[p.u3, p.l3, DARK, 1], [p.u2, p.l2, LIGHT, 2], [p.u1, p.l1, YELLOW, 3]].forEach(b => {
    series.push(Object.assign({
      type: 'custom', clip: true, silent: true, z: b[3],
      renderItem: bandRenderer(p.bLag, b[0], b[1], b[2]),
      data: [[p.bLag[0], b[0][0]]]
    }, ax));
  });
  const dash = {color: '#222', width: 1, type: [4, 3]};
  series.push(Object.assign({type: 'line', silent: true, z: 4, symbol: 'none', lineStyle: dash,
    data: [[p.range[0], 0], [p.range[1], 0]]}, ax));
  series.push(Object.assign({type: 'line', silent: true, z: 4, symbol: 'none', lineStyle: dash,
    data: [[0, -1], [0, 1]]}, ax));
  series.push(Object.assign({type: 'line', silent: true, z: 5, symbol: 'none', clip: true,
    lineStyle: {color: '#000', width: 2},
    data: p.lag.map((x, k) => [x, p.dcf[k]])}, ax));
  if (p.peak) {
    series.push(Object.assign({type: 'custom', clip: true, silent: true, z: 6,
      renderItem: spanRenderer(PEAK_FILL), data: [[p.peak[0], p.peak[2]]]}, ax));
  }
  series.push(Object.assign({type: 'custom', clip: true, silent: true, z: 7,
    renderItem: spanRenderer(GREY),
    data: [[p.range[0], -p.edge], [p.edge, p.range[1]]]}, ax));
  if (p.peak) {
    series.push(Object.assign({type: 'line', silent: true, z: 8, symbol: 'none',
      lineStyle: {color: PEAK_LINE, width: 2.5, type: [6, 4]},
      data: [[p.peak[1], -1], [p.peak[1], 1]]}, ax));
  }

  graphics.push({
    type: 'text', x: left + GRID_W / 2, y: top - 16,
    style: {text: p.title, font: FS + 'px ' + FONT, fill: '#000', align: 'center', verticalAlign: 'middle', textAlign: 'center', textVerticalAlign: 'middle'}
  });
  if (p.note) {
    graphics.push({
      type: 'text', x: left + GRID_W, y: top - 17,
      style: {text: '{i|f}{s|' + p.sub + '}{n| \u2212 }{i|f}{s|W2}', rich: subRich, fill: '#000',
        align: 'right', verticalAlign: 'middle', textAlign: 'right', textVerticalAlign: 'middle'}
    });
  }
});

const chart = echarts.init(document.getElementById('main'), null, {renderer: 'canvas', width: 1374, height: 1448});
chart.setOption({
  animation: false,
  backgroundColor: '#fff',
  grid: grids,
  xAxis: xAxes,
  yAxis: yAxes,
  series: series,
  graphic: graphics
});
</script>
</body>
</html>
